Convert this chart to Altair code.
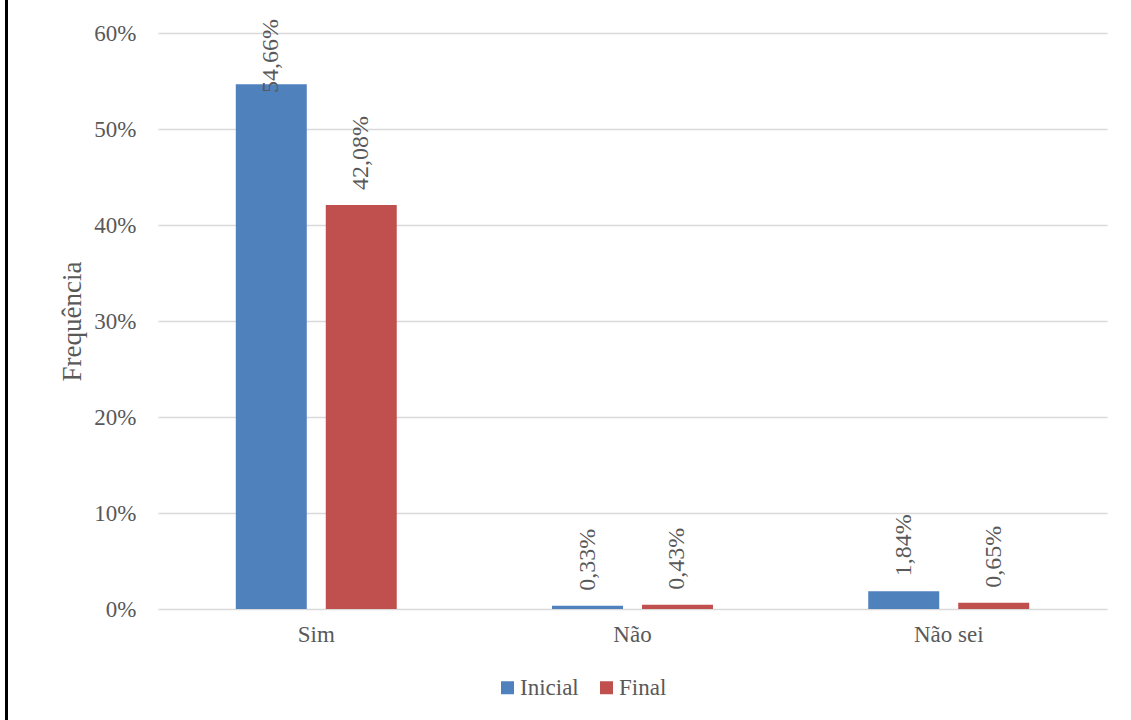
import altair as alt
import pandas as pd

# Survey answers and the share of each answer at the start and end
categories = ["Sim", "Não", "Não sei"]
series = ["Inicial", "Final"]
inicial = [54.66, 0.33, 1.84]
final = [42.08, 0.43, 0.65]
y_ticks = [0, 10, 20, 30, 40, 50, 60]

rows = []
for cat, a, b in zip(categories, inicial, final):
    rows.append({"resposta": cat, "momento": "Inicial", "valor": a})
    rows.append({"resposta": cat, "momento": "Final", "valor": b})
df = pd.DataFrame(rows)

FONT = "Liberation Serif"
TEXT = "#595959"

color = alt.Color(
    "momento:N",
    sort=series,
    scale=alt.Scale(domain=series, range=["#4f81bd", "#c0504d"]),
    legend=alt.Legend(
        title=None,
        orient="none",
        direction="horizontal",
        legendX=338,
        legendY=643,
        symbolType="square",
        symbolSize=169,
        symbolStrokeWidth=0,
        labelFont=FONT,
        labelFontSize=23,
        labelColor=TEXT,
        labelOffset=1,
        columnPadding=16,
    ),
)

x = alt.X(
    "resposta:N",
    sort=categories,
    scale=alt.Scale(paddingInner=0.491, paddingOuter=0.246),
    axis=alt.Axis(
        title=None,
        labelAngle=0,
        labelFont=FONT,
        labelFontSize=23,
        labelColor=TEXT,
        labelPadding=14,
        ticks=False,
        domain=False,
    ),
)
x_off = alt.XOffset(
    "momento:N", sort=series, scale=alt.Scale(paddingInner=0.211, paddingOuter=0)
)

y = alt.Y(
    "valor:Q",
    scale=alt.Scale(domain=[0, 60], nice=False),
    axis=alt.Axis(
        values=y_ticks,
        labelExpr="datum.value + '%'",
        labelFont=FONT,
        labelFontSize=23,
        labelColor=TEXT,
        labelPadding=22,
        ticks=False,
        domain=False,
        gridColor="#d9d9d9",
        gridWidth=1.5,
        title="Frequência",
        titleFont=FONT,
        titleFontSize=27,
        titleFontWeight="normal",
        titleColor=TEXT,
        titleX=-86,
        titleY=288,
        titleAlign="center",
        titleBaseline="middle",
    ),
)

bars = alt.Chart(df).mark_bar().encode(x=x, xOffset=x_off, y=y, color=color)

# Value labels above each bar, written with a decimal comma; a label that
# would run off the top of the chart is held down onto the bar
labels = (
    alt.Chart(df)
    .transform_calculate(
        rotulo="replace(format(datum.valor, '.2f'), '.', ',') + '%'",
        pos="min(datum.valor, 52.2)",
    )
    .mark_text(
        angle=270,
        align="left",
        baseline="middle",
        dx=15,
        font=FONT,
        fontSize=24,
        color=TEXT,
    )
    .encode(
        x=alt.X("resposta:N", sort=categories),
        xOffset=alt.XOffset("momento:N", sort=series),
        y=alt.Y("pos:Q"),
        text="rotulo:N",
    )
)

# Thin frame line down the left edge of the chart
frame = (
    alt.Chart(pd.DataFrame({"k": [0]}))
    .mark_rule(color="black", strokeWidth=3)
    .encode(x=alt.value(-151.5), y=alt.value(-40), y2=alt.value(700))
)

chart = (
    alt.layer(bars, labels, frame)
    .properties(
        width=949,
        height=576,
        padding={"left": 158, "top": 33, "right": 24, "bottom": 111},
        autosize=alt.AutoSizeParams(type="none"),
        background="white",
    )
    .configure_view(stroke=None)
)

chart.save("out.html", embed_options={"renderer": "svg", "actions": False})
